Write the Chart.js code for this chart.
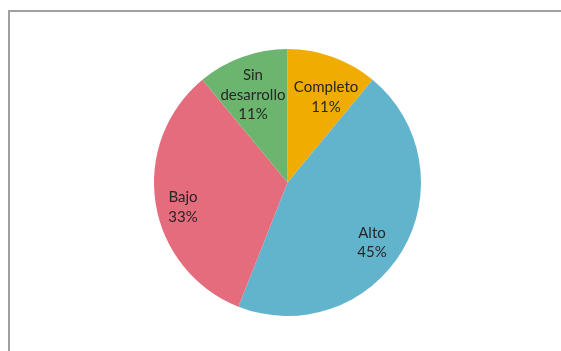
<!DOCTYPE html>
<html>
<head>
<meta charset="utf-8">
<script src="https://cdn.jsdelivr.net/npm/chart.js@4/dist/chart.umd.min.js"></script>
<style>
  html, body { margin: 0; padding: 0; background: #fff; overflow: hidden; }
  canvas { display: block; }
</style>
</head>
<body>
<canvas id="pieChart" width="561" height="351"></canvas>
<script>
const categories = ['Completo', 'Alto', 'Bajo', 'Sin desarrollo'];
const values = [11, 45, 33, 11];
const sliceColors = ['#F0AC00', '#62B4CC', '#E56C7D', '#6BB56F'];

// category names can wrap onto two lines inside the slice
const labelLines = [['Completo'], ['Alto'], ['Bajo'], ['Sin', 'desarrollo']];

function pct(v) {
  const total = values.reduce((a, b) => a + b, 0);
  return Math.round(v / total * 100) + '%';
}

// grey chart-area edge along the left and top of the canvas
const chartFrame = {
  id: 'chartFrame',
  beforeDraw(chart) {
    const ctx = chart.ctx;
    ctx.save();
    ctx.strokeStyle = '#a0a0a0';
    ctx.lineWidth = 2;
    ctx.beginPath();
    ctx.moveTo(9, chart.height);
    ctx.lineTo(9, 11);
    ctx.lineTo(chart.width, 11);
    ctx.stroke();
    ctx.restore();
  }
};

// draws "name / percent" inside each slice, the way the office chart does
const sliceLabels = {
  id: 'sliceLabels',
  afterDatasetsDraw(chart, args, opts) {
    const ctx = chart.ctx;
    const meta = chart.getDatasetMeta(0);
    ctx.save();
    ctx.font = opts.font;
    ctx.fillStyle = opts.color;
    ctx.textAlign = 'center';
    ctx.textBaseline = 'middle';
    meta.data.forEach((arc, i) => {
      const p = arc.getProps(['x', 'y', 'startAngle', 'endAngle', 'outerRadius'], true);
      const mid = (p.startAngle + p.endAngle) / 2;
      const r = p.outerRadius * opts.radius[i];
      const cx = p.x + Math.cos(mid) * r + opts.shift[i][0];
      const cy = p.y + Math.sin(mid) * r + opts.shift[i][1];
      const lines = labelLines[i].concat([pct(values[i])]);
      const top = cy - (lines.length - 1) * opts.lineHeight / 2;
      lines.forEach((t, k) => ctx.fillText(t, cx, top + k * opts.lineHeight));
    });
    ctx.restore();
  }
};

new Chart(document.getElementById('pieChart'), {
  type: 'pie',
  data: {
    labels: categories,
    datasets: [{
      data: values,
      backgroundColor: sliceColors,
      borderWidth: 0,
    }]
  },
  options: {
    responsive: false,
    animation: false,
    events: [],
    layout: { padding: { left: 14, right: 0, top: 49, bottom: 35 } },
    plugins: {
      legend: { display: false },
      tooltip: { enabled: false },
      sliceLabels: {
        font: '15px Lato, "Open Sans", sans-serif',
        color: '#262626',
        lineHeight: 19.5,
        radius: [0.72, 0.77, 0.8, 0.72],
        shift: [[6, 5], [-4, 8], [1, 8], [-2, 3]],
      }
    }
  },
  plugins: [chartFrame, sliceLabels]
});
</script>
</body>
</html>
